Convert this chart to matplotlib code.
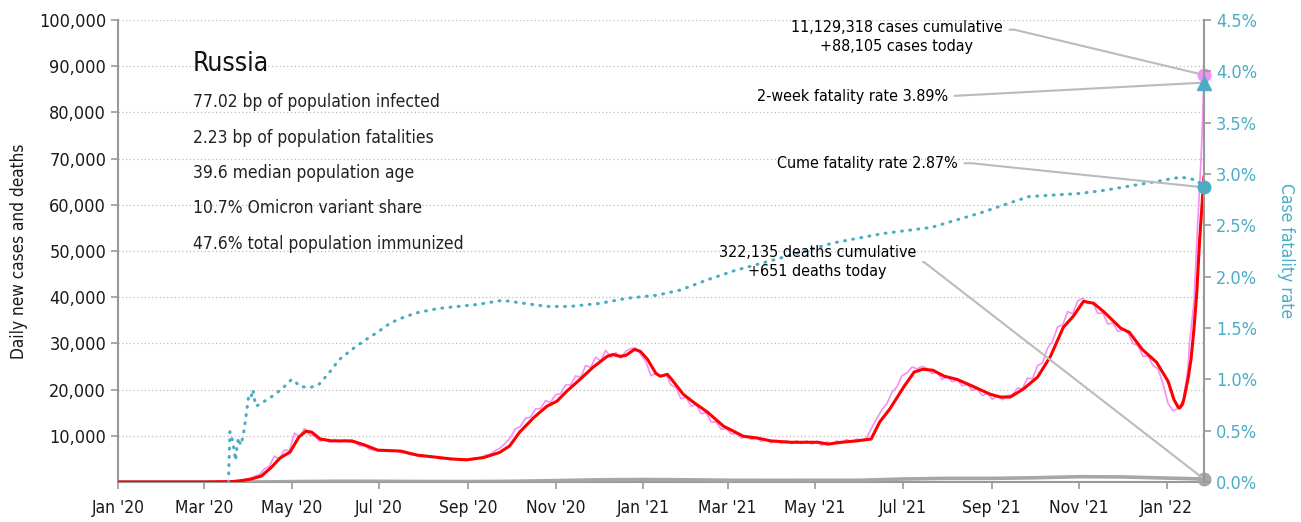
import matplotlib
matplotlib.use("Agg")
import matplotlib.pyplot as plt
import matplotlib.dates as mdates
from matplotlib.ticker import FuncFormatter, MultipleLocator
import pandas as pd

plt.rcParams['font.family'] = ['DejaVu Sans']
plt.rcParams['font.stretch'] = 'condensed'

# 7-day average of new cases
avg_dates = ["2020-01-01", "2020-03-01", "2020-03-21", "2020-03-27", "2020-04-03", "2020-04-10",
             "2020-04-17", "2020-04-23", "2020-04-30", "2020-05-06", "2020-05-11", "2020-05-15",
             "2020-05-21", "2020-05-29", "2020-06-12", "2020-06-21", "2020-06-30", "2020-07-16",
             "2020-07-28", "2020-08-09", "2020-08-20", "2020-08-31", "2020-09-12", "2020-09-23",
             "2020-09-30", "2020-10-07", "2020-10-17", "2020-10-26", "2020-11-02", "2020-11-09",
             "2020-11-18", "2020-11-27", "2020-12-07", "2020-12-11", "2020-12-16", "2020-12-20",
             "2020-12-26", "2020-12-30", "2021-01-04", "2021-01-10", "2021-01-13", "2021-01-18",
             "2021-01-22", "2021-01-29", "2021-02-05", "2021-02-15", "2021-02-26", "2021-03-05",
             "2021-03-12", "2021-03-22", "2021-03-31", "2021-04-14", "2021-05-03", "2021-05-10",
             "2021-05-19", "2021-05-30", "2021-06-09", "2021-06-15", "2021-06-22", "2021-07-02",
             "2021-07-09", "2021-07-15", "2021-07-22", "2021-07-30", "2021-08-08", "2021-08-19",
             "2021-08-31", "2021-09-07", "2021-09-14", "2021-09-23", "2021-10-03", "2021-10-12",
             "2021-10-21", "2021-10-28", "2021-11-04", "2021-11-11", "2021-11-18", "2021-11-30",
             "2021-12-06", "2021-12-15", "2021-12-25", "2022-01-02", "2022-01-06", "2022-01-09",
             "2022-01-10", "2022-01-12", "2022-01-13", "2022-01-16", "2022-01-18", "2022-01-20",
             "2022-01-22", "2022-01-24", "2022-01-27"]
avg_cases = [0, 0, 100, 300, 650, 1300,
             3200, 5200, 6500, 9700, 11000, 10800,
             9300, 8900, 8900, 8000, 6900, 6700,
             5800, 5400, 5000, 4800, 5300, 6400,
             7800, 10800, 14000, 16400, 17500, 19700,
             22200, 24800, 27200, 27600, 27200, 27400,
             28700, 28300, 26600, 23500, 22900, 23300,
             21800, 19000, 17300, 15100, 12100, 11000,
             9900, 9500, 8900, 8600, 8600, 8200,
             8600, 8900, 9300, 13000, 15800, 20700,
             23800, 24400, 24200, 22900, 22200, 20700,
             19000, 18400, 18400, 20100, 22700, 27200,
             33500, 35900, 39100, 38700, 36900, 33300,
             32400, 28700, 25900, 21800, 17900, 16200,
             16000, 16800, 17900, 22500, 26600, 33000,
             41000, 52500, 66000]

# raw daily new cases (thousands), every 3.5 days from mid-March 2020
daily_k = [0.06, 0.09, 0.25, 0.33, 0.55, 0.7, 1.2, 1.6, 2.8, 3.4,
           5.6, 5.0, 6.9, 6.8, 10.6, 9.8, 11.6, 10.2, 10.0, 8.8,
           9.3, 8.6, 9.2, 8.7, 9.1, 8.6, 8.6, 7.8, 7.9, 7.0,
           7.0, 6.7, 6.9, 6.6, 6.8, 6.4, 6.3, 5.9, 5.8, 5.5,
           5.6, 5.3, 5.4, 5.0, 5.15, 4.85, 5.0, 4.75, 4.95, 4.9,
           5.2, 5.2, 5.8, 6.0, 6.8, 7.4, 8.4, 9.6, 11.5, 12.0,
           13.8, 14.0, 15.8, 15.9, 17.6, 17.2, 18.9, 19.1, 21.0, 21.0,
           23.0, 22.6, 25.2, 24.8, 27.0, 26.2, 28.5, 27.0, 28.0, 26.8,
           28.3, 28.9, 29.0, 27.6, 26.0, 23.0, 23.5, 22.8, 23.3, 21.0,
           20.4, 18.0, 18.4, 16.4, 16.8, 14.8, 15.0, 13.0, 13.0, 11.4,
           11.6, 10.4, 10.5, 9.5, 10.0, 9.2, 9.6, 8.8, 9.2, 8.5,
           9.0, 8.4, 8.9, 8.3, 8.9, 8.3, 8.9, 8.2, 8.8, 7.9,
           8.7, 8.2, 8.9, 8.4, 9.2, 8.7, 9.3, 9.0, 9.6, 11.8,
           13.8, 15.6, 17.0, 19.4, 20.6, 23.0, 23.6, 24.9, 24.5, 25.0,
           24.6, 23.5, 23.8, 22.2, 22.9, 21.7, 22.1, 20.8, 21.2, 19.8,
           20.1, 18.7, 19.2, 17.9, 18.6, 17.8, 18.7, 18.9, 20.3, 20.2,
           22.5, 22.3, 25.2, 25.8, 29.0, 30.5, 33.6, 34.0, 36.9, 36.4,
           39.2, 39.8, 38.6, 38.8, 36.5, 36.6, 34.2, 34.4, 32.6, 33.0,
           32.3, 30.0, 29.5, 27.2, 27.3, 25.2, 24.5, 21.2, 17.0, 15.4, 15.9]
tail_dates = ["2022-01-13", "2022-01-14", "2022-01-16", "2022-01-17", "2022-01-18", "2022-01-20",
              "2022-01-21", "2022-01-22", "2022-01-23", "2022-01-24", "2022-01-25", "2022-01-26",
              "2022-01-27"]
tail_k = [18.0, 20.5, 25.0, 30.5, 33.0, 39.0, 45.0, 52.0, 58.0, 64.0, 70.0, 78.0, 88.105]

# daily deaths
death_dates = ["2020-01-01", "2020-03-01", "2020-03-25", "2020-04-15", "2020-05-01", "2020-05-15",
               "2020-06-01", "2020-07-01", "2020-08-01", "2020-09-01", "2020-10-01", "2020-11-01",
               "2020-12-01", "2021-01-01", "2021-02-01", "2021-03-01", "2021-04-01", "2021-05-01",
               "2021-06-01", "2021-07-01", "2021-08-01", "2021-09-01", "2021-10-01", "2021-11-01",
               "2021-12-01", "2022-01-01", "2022-01-27"]
deaths = [0, 0, 5, 30, 90, 120, 160, 150, 110, 100, 150, 300,
          480, 540, 480, 380, 360, 370, 380, 650, 790, 790, 920, 1150,
          1100, 850, 651]

# cumulative case fatality rate (%)
cfr_dates = ["2020-03-18", "2020-03-19", "2020-03-20", "2020-03-21", "2020-03-22", "2020-03-23",
             "2020-03-24", "2020-03-25", "2020-03-26", "2020-03-27", "2020-03-28", "2020-03-29",
             "2020-03-30", "2020-03-31", "2020-04-01", "2020-04-02", "2020-04-03", "2020-04-04",
             "2020-04-05", "2020-04-06", "2020-04-08", "2020-04-10", "2020-04-15", "2020-04-20",
             "2020-04-26", "2020-05-01", "2020-05-04", "2020-05-07", "2020-05-14", "2020-05-20",
             "2020-05-27", "2020-06-03", "2020-06-12", "2020-06-21", "2020-06-30", "2020-07-09",
             "2020-07-19", "2020-07-28", "2020-08-11", "2020-08-25", "2020-09-08", "2020-09-25",
             "2020-10-05", "2020-10-26", "2020-11-11", "2020-12-02", "2020-12-21", "2021-01-11",
             "2021-01-27", "2021-02-15", "2021-03-06", "2021-04-09", "2021-05-14", "2021-06-17",
             "2021-07-21", "2021-08-24", "2021-09-14", "2021-09-27", "2021-11-01", "2021-11-18",
             "2021-12-22", "2022-01-11", "2022-01-22", "2022-01-27"]
cfr_pct = [0.0, 0.49, 0.44, 0.40, 0.30, 0.21,
           0.35, 0.43, 0.38, 0.36, 0.45, 0.51,
           0.62, 0.72, 0.83, 0.86, 0.84, 0.90,
           0.82, 0.74, 0.75, 0.77, 0.81, 0.86,
           0.93, 1.00, 0.97, 0.93, 0.92, 0.95,
           1.06, 1.19, 1.29, 1.38, 1.46, 1.55,
           1.61, 1.65, 1.69, 1.71, 1.73, 1.77,
           1.75, 1.71, 1.71, 1.74, 1.79, 1.82,
           1.87, 1.97, 2.06, 2.19, 2.33, 2.42,
           2.48, 2.62, 2.72, 2.78, 2.81, 2.84,
           2.92, 2.97, 2.94, 2.87]

two_week_cfr = 3.89
cases_total = "11,129,318"
cases_today = 88105
deaths_total = "322,135"
deaths_today = 651
country = "Russia"
stats = ["77.02 bp of population infected",
         "2.23 bp of population fatalities",
         "39.6 median population age",
         "10.7% Omicron variant share",
         "47.6% total population immunized"]

TEAL = "#4bacc6"
PINK = "#f78ef7"
RED = "#ff0000"
GRAY = "#a6a6a6"
AXIS = "#999999"

daily_dates = list(pd.date_range("2020-03-15", "2022-01-12", freq="84h")) + list(pd.to_datetime(tail_dates))
daily_cases = [v * 1000 for v in daily_k + tail_k]
last_day = pd.Timestamp(tail_dates[-1])
last_num = mdates.date2num(last_day)

fig = plt.figure(figsize=(13.01, 5.22), dpi=100)
ax = fig.add_axes([0.0907, 0.0766, 0.8347, 0.8851])
ax2 = ax.twinx()

ax.plot(pd.to_datetime(death_dates), deaths, color=GRAY, lw=2.6, zorder=3)
ax.plot(daily_dates, daily_cases, color=PINK, lw=1.2, zorder=4)
ax.plot(pd.to_datetime(avg_dates), avg_cases, color=RED, lw=2.2, zorder=5)
ax2.plot(pd.to_datetime(cfr_dates), [v / 100 for v in cfr_pct], color=TEAL, lw=2.2,
         linestyle=(0, (0.3, 2.4)), dash_capstyle="round")

# end-of-series markers
ax.plot([last_num], [cases_today], "o", color=PINK, ms=9, clip_on=False, zorder=6)
ax.plot([last_num], [deaths_today], "o", color=GRAY, ms=9, clip_on=False, zorder=6)
ax2.plot([last_num], [two_week_cfr / 100], "^", color=TEAL, ms=10, clip_on=False, zorder=6)
ax2.plot([last_num], [cfr_pct[-1] / 100], "o", color=TEAL, ms=9, clip_on=False, zorder=6)

ax.set_xlim(mdates.date2num(pd.Timestamp("2020-01-01")), last_num)
ax.set_ylim(0, 100000)
ax2.set_ylim(0, 0.045)

ax.xaxis.set_major_locator(mdates.MonthLocator(bymonth=[1, 3, 5, 7, 9, 11]))
ax.xaxis.set_major_formatter(mdates.DateFormatter("%b '%y"))
ax.set_yticks(range(10000, 100001, 10000))
ax.yaxis.set_major_formatter(FuncFormatter(lambda v, p: f"{int(v):,}"))
ax2.yaxis.set_major_locator(MultipleLocator(0.005))
ax2.yaxis.set_major_formatter(FuncFormatter(lambda v, p: f"{v * 100:.1f}%"))

ax.grid(axis="y", color="#bbbbbb", linestyle=(0, (1, 2)), lw=0.9)
ax.set_axisbelow(True)
for a in (ax, ax2):
    a.spines["top"].set_visible(False)
    for s in ("left", "right", "bottom"):
        a.spines[s].set_color(AXIS)
        a.spines[s].set_linewidth(1.5)
ax.spines["right"].set_visible(False)
ax2.spines["left"].set_visible(False)
ax2.spines["bottom"].set_visible(False)

ax.tick_params(axis="y", colors=AXIS, labelcolor="#1a1a1a", labelsize=13, length=5, width=1.2)
ax.tick_params(axis="x", colors=AXIS, labelcolor="#1a1a1a", labelsize=12.5, length=5,
               width=1.2, pad=7)
ax2.tick_params(axis="y", colors=AXIS, labelcolor=TEAL, labelsize=13, length=5, width=1.2)

ax.set_ylabel("Daily new cases and deaths", fontsize=12.3, color="#1a1a1a", labelpad=8)
ax2.set_ylabel("Case fatality rate", fontsize=12.5, color=TEAL, rotation=270, labelpad=27)

# country summary block
ax.text(0.069, 0.905, country, transform=ax.transAxes, fontsize=19, va="center", color="#111111")
for i, line in enumerate(stats):
    ax.text(0.069, 0.822 - i * 0.0765, line, transform=ax.transAxes, fontsize=12.5,
            va="center", color="#222222")

line_kw = dict(arrowstyle="-", color="#bbbbbb", lw=1.5, shrinkA=3, shrinkB=2)
ann_size = 11.5
ax2.annotate(f"{cases_total} cases cumulative\n+{cases_today:,} cases today",
             xy=(last_num, cases_today), xycoords=ax.transData,
             xytext=(0.717, 0.963), textcoords="axes fraction", ha="center", va="center",
             fontsize=ann_size, linespacing=1.3,
             arrowprops=dict(connectionstyle="arc,angleA=0,armA=12,angleB=0,armB=0,rad=0",
                             relpos=(1.0, 0.72), **line_kw))
ax2.annotate(f"2-week fatality rate {two_week_cfr:.2f}%",
             xy=(last_num, two_week_cfr / 100),
             xytext=(0.764, 0.835), textcoords="axes fraction", ha="right", va="center",
             fontsize=ann_size, arrowprops=dict(relpos=(1.0, 0.5), **line_kw))
ax2.annotate(f"Cume fatality rate {cfr_pct[-1]:.2f}%",
             xy=(last_num, cfr_pct[-1] / 100),
             xytext=(0.773, 0.690), textcoords="axes fraction", ha="right", va="center",
             fontsize=ann_size,
             arrowprops=dict(connectionstyle="arc,angleA=0,armA=14,angleB=0,armB=0,rad=0",
                             relpos=(1.0, 0.5), **line_kw))
ax2.annotate(f"{deaths_total} deaths cumulative\n+{deaths_today:,} deaths today",
             xy=(last_num, deaths_today), xycoords=ax.transData,
             xytext=(0.644, 0.476), textcoords="axes fraction", ha="center", va="center",
             fontsize=ann_size, linespacing=1.3,
             arrowprops=dict(connectionstyle="arc,angleA=0,armA=8,angleB=0,armB=0,rad=0",
                             relpos=(1.0, 0.5), **line_kw))

fig.savefig("out.png", dpi=100)
